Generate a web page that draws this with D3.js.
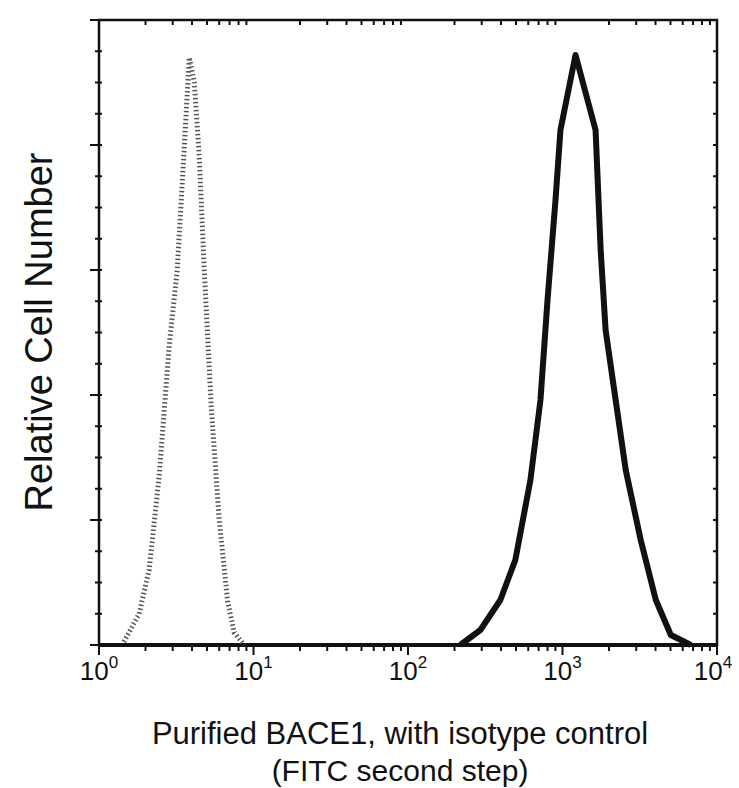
<!DOCTYPE html><html><head><meta charset="utf-8">
<script src="https://cdn.jsdelivr.net/npm/d3@7"></script>
<style>body{margin:0;background:#fff}text{font-family:"Liberation Sans",Arial,sans-serif;fill:#111}</style></head><body>
<svg id="c" width="739" height="788"></svg>
<script>
const isoX=[1.45,1.82,2.11,2.45,2.85,3.21,3.57,3.84,4.14,4.46,4.8,5.33,6.0,6.8,7.5,8.7];
const isoY=[0.005,0.05,0.12,0.27,0.48,0.6,0.8,0.94,0.9,0.78,0.6,0.38,0.2,0.07,0.02,0];
const baceX=[218,294,396,495,620,720,800,901,970,1214,1637,1766,1901,2208,2566,3208,4018,5025,6776];
const baceY=[0,0.024,0.072,0.136,0.264,0.392,0.552,0.712,0.824,0.944,0.824,0.632,0.504,0.392,0.28,0.168,0.072,0.016,0];
const xTicks=[1,10,100,1000,10000];
const xTickExp=["0","1","2","3","4"];
const yMajor=[0,0.2,0.4,0.6,0.8,1];

const svg=d3.select("#c");
const L=99,R=717,T=20,B=645;
const x=d3.scaleLog().domain([1,1e4]).range([L,R]);
const y=d3.scaleLinear().domain([0,1]).range([B,T]);
const minor=[];for(let e=0;e<4;e++)for(let m=2;m<10;m++)minor.push(m*10**e);
svg.append("g").selectAll("line").data(minor).join("line").attr("x1",d=>x(d)).attr("x2",d=>x(d)).attr("y1",B).attr("y2",B+6).attr("stroke","#111").attr("stroke-width",2);
svg.append("g").selectAll("line").data(minor).join("line").attr("x1",d=>x(d)).attr("x2",d=>x(d)).attr("y1",T).attr("y2",T+5).attr("stroke","#111").attr("stroke-width",2);
svg.append("g").selectAll("line").data(xTicks).join("line").attr("x1",d=>x(d)).attr("x2",d=>x(d)).attr("y1",B).attr("y2",B+10).attr("stroke","#111").attr("stroke-width",2);
const yMinor=d3.range(0,1.0001,0.05);
svg.append("g").selectAll("line").data(yMinor).join("line").attr("x1",L-4).attr("x2",L+3).attr("y1",d=>y(d)).attr("y2",d=>y(d)).attr("stroke","#111").attr("stroke-width",2);
svg.append("g").selectAll("line").data(yMajor).join("line").attr("x1",L-9).attr("x2",L).attr("y1",d=>y(d)).attr("y2",d=>y(d)).attr("stroke","#111").attr("stroke-width",2);
svg.append("g").selectAll("line").data(yMinor).join("line").attr("x1",R-4).attr("x2",R).attr("y1",d=>y(d)).attr("y2",d=>y(d)).attr("stroke","#111").attr("stroke-width",2);
svg.append("rect").attr("x",L).attr("y",T).attr("width",R-L).attr("height",B-T).attr("fill","none").attr("stroke","#111").attr("stroke-width",2.5);
svg.append("line").attr("x1",L).attr("x2",R).attr("y1",B).attr("y2",B).attr("stroke","#111").attr("stroke-width",4);
const line=d3.line().x(d=>x(d[0])).y(d=>y(d[1])).curve(d3.curveLinear);
svg.append("path").attr("d",line(isoX.map((v,i)=>[v,isoY[i]]))).attr("fill","none").attr("stroke","#555").attr("stroke-width",5).attr("stroke-dasharray","1.5,2.5");
svg.append("path").attr("d",line(baceX.map((v,i)=>[v,baceY[i]]))).attr("fill","none").attr("stroke","#111").attr("stroke-width",6).attr("stroke-linejoin","round");
const lab=svg.append("g").selectAll("text").data(xTicks).join("text").attr("x",(d,i)=>x(d)+(i==4?-4:0)).attr("y",680).attr("text-anchor","middle").attr("font-size",26);
lab.append("tspan").text("10");
lab.append("tspan").attr("dy",-12).attr("font-size",17).text((d,i)=>xTickExp[i]);
svg.append("text").attr("transform","translate(52,332) rotate(-90)").attr("text-anchor","middle").attr("font-size",38).text("Relative Cell Number");
svg.append("text").attr("x",400).attr("y",744).attr("text-anchor","middle").attr("font-size",31).text("Purified BACE1, with isotype control");
svg.append("text").attr("x",400).attr("y",781).attr("text-anchor","middle").attr("font-size",30).text("(FITC second step)");
</script></body></html>
